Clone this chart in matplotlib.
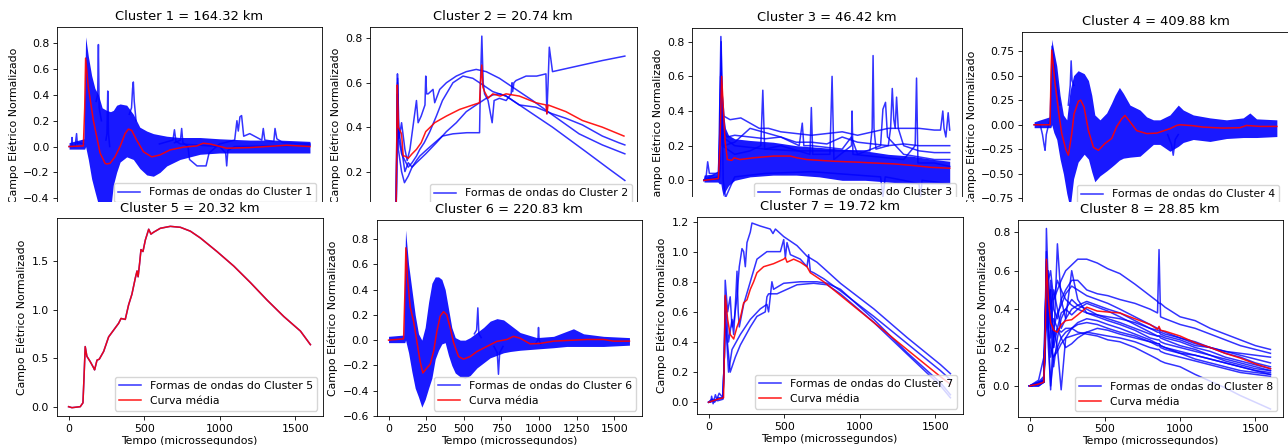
import matplotlib
matplotlib.use('Agg')
import matplotlib.pyplot as plt
from matplotlib.lines import Line2D
from matplotlib.patches import Rectangle

# ---------------- data (tempo in microseconds) ----------------
titles = ['Cluster 1 = 164.32 km', 'Cluster 2 = 20.74 km', 'Cluster 3 = 46.42 km',
          'Cluster 4 = 409.88 km', 'Cluster 5 = 20.32 km', 'Cluster 6 = 220.83 km',
          'Cluster 7 = 19.72 km', 'Cluster 8 = 28.85 km']

# cluster 1
c1_mean_t = [0, 95, 104, 110, 128, 162, 206, 239, 250, 272, 305, 339, 372, 394, 416, 449, 494, 549,
             604, 671, 759, 848, 892, 936, 1047, 1202, 1445, 1600]
c1_mean_v = [0.0, 0.005, 0.3, 0.685, 0.46, 0.2, -0.05, -0.13, -0.135, -0.13, -0.08, 0.0, 0.10, 0.135,
             0.125, 0.05, -0.04, -0.08, -0.065, -0.026, -0.005, 0.005, 0.026, 0.02, -0.013, -0.008, 0.01, 0.0]
c1_band_t = [0, 98, 104, 110, 128, 150, 172, 195, 220, 250, 275, 294, 316, 339, 383, 427, 470, 516,
             560, 604, 649, 737, 870, 1000, 1200, 1400, 1600]
c1_band_hi = [0.03, 0.06, 0.45, 0.85, 0.7, 0.55, 0.45, 0.4, 0.3, 0.28, 0.27, 0.28, 0.32, 0.33, 0.32,
              0.25, 0.15, 0.12, 0.1, 0.09, 0.08, 0.07, 0.07, 0.06, 0.05, 0.05, 0.04]
c1_band_lo = [-0.02, -0.02, -0.02, 0.0, -0.1, -0.25, -0.35, -0.45, -0.55, -0.55, -0.5, -0.3, -0.2,
              -0.12, -0.08, -0.1, -0.17, -0.22, -0.23, -0.2, -0.15, -0.1, -0.06, -0.05, -0.05, -0.05, -0.05]
c1_waves = [
    ([0, 15, 20, 25, 40, 50, 55, 70, 98], [0.0, 0.0, 0.07, 0.0, 0.0, 0.1, 0.02, 0.03, 0.02]),
    ([180, 190, 195, 200, 215], [0.35, 0.4, 0.79, 0.3, 0.2]),
    ([245, 252, 257, 262, 270], [0.05, 0.1, 0.43, 0.1, 0.0]),
    ([400, 415, 422, 427, 433, 445], [0.25, 0.3, 0.45, 0.5, 0.35, 0.2]),
    ([700, 740, 748, 756, 790, 800, 850, 910, 930, 1000, 1100, 1115, 1124, 1135, 1146, 1160, 1200,
      1280, 1290, 1300, 1360, 1368, 1380, 1420, 1600],
     [0.03, 0.05, 0.14, 0.03, 0.0, -0.1, -0.15, -0.15, -0.05, 0.02, 0.05, 0.2, 0.12, 0.23, 0.24, 0.08,
      0.1, 0.05, 0.14, 0.05, 0.04, 0.14, 0.06, 0.03, 0.02]),
    ([600, 690, 700, 710, 740, 1000, 1040, 1047, 1055, 1100, 1600],
     [0.02, 0.05, 0.13, 0.04, 0.02, 0.0, -0.05, -0.15, -0.03, 0.0, 0.01]),
]

# cluster 2
c2_mean_t = [0, 95, 98, 103, 110, 131, 142, 153, 175, 200, 229, 260, 290, 320, 349, 400, 426, 513, 600,
             644, 650, 659, 666, 677, 700, 731, 780, 819, 906, 1015, 1081, 1087, 1095, 1212, 1321, 1452, 1594]
c2_mean_v = [0.0, 0.0, 0.25, 0.59, 0.4, 0.37, 0.27, 0.27, 0.26, 0.28, 0.30, 0.33, 0.38, 0.40, 0.42, 0.44,
             0.45, 0.48, 0.50, 0.51, 0.6, 0.68, 0.58, 0.56, 0.53, 0.55, 0.54, 0.55, 0.54, 0.51, 0.50, 0.46,
             0.50, 0.47, 0.43, 0.40, 0.36]
c2_waves = [
    ([0, 95, 100, 104, 110, 131, 153, 175, 200, 229, 251, 299, 349, 400, 469, 560, 644, 650, 659, 668,
      677, 700, 727, 740, 775, 819, 852, 858, 862, 870, 884, 950, 1020, 1081, 1087, 1095, 1103, 1124,
      1255, 1452, 1600],
     [0.0, 0.0, 0.3, 0.64, 0.4, 0.3, 0.2, 0.24, 0.22, 0.25, 0.27, 0.3, 0.33, 0.36, 0.37, 0.375, 0.375,
      0.6, 0.81, 0.6, 0.55, 0.52, 0.42, 0.52, 0.53, 0.52, 0.55, 0.6, 0.56, 0.6, 0.61, 0.63, 0.63, 0.64,
      0.46, 0.6, 0.76, 0.65, 0.67, 0.70, 0.72]),
    ([0, 95, 100, 105, 115, 131, 153, 168, 186, 229, 240, 260, 285, 290, 296, 306, 338, 349, 382, 426,
      491, 557, 622, 688, 775, 862, 993, 1124, 1299, 1452, 1600],
     [0.0, 0.0, 0.4, 0.62, 0.35, 0.42, 0.3, 0.25, 0.3, 0.52, 0.42, 0.45, 0.5, 0.63, 0.55, 0.55, 0.57,
      0.51, 0.57, 0.6, 0.63, 0.65, 0.66, 0.65, 0.62, 0.58, 0.52, 0.455, 0.37, 0.32, 0.28]),
    ([0, 95, 100, 104, 112, 131, 175, 200, 229, 251, 280, 317, 360, 400, 469, 535, 600, 644, 688, 731,
      775, 819, 906, 1015, 1124, 1212, 1321, 1452, 1560, 1600],
     [0.0, 0.0, 0.3, 0.6, 0.35, 0.28, 0.22, 0.24, 0.27, 0.3, 0.33, 0.38, 0.45, 0.52, 0.6, 0.63, 0.62,
      0.6, 0.58, 0.56, 0.55, 0.54, 0.5, 0.49, 0.46, 0.44, 0.41, 0.36, 0.33, 0.32]),
    ([0, 95, 100, 104, 110, 131, 150, 175, 200, 229, 290, 360, 426, 491, 557, 622, 688, 731, 775, 819,
      906, 1015, 1124, 1343, 1500, 1600],
     [0.0, 0.0, 0.35, 0.55, 0.3, 0.2, 0.15, 0.18, 0.22, 0.24, 0.28, 0.33, 0.38, 0.42, 0.47, 0.5, 0.53,
      0.545, 0.55, 0.54, 0.5, 0.45, 0.4, 0.29, 0.21, 0.16]),
]

# cluster 3
c3_mean_t = [0, 94, 104, 115, 137, 152, 181, 196, 235, 322, 453, 562, 605, 670, 845, 997, 1106, 1236,
             1367, 1476, 1600]
c3_mean_v = [0.0, 0.01, 0.2, 0.6, 0.23, 0.12, 0.115, 0.13, 0.12, 0.13, 0.14, 0.14, 0.13, 0.12, 0.11,
             0.105, 0.1, 0.095, 0.085, 0.075, 0.07]
c3_band_t = [0, 90, 100, 110, 115, 125, 140, 160, 200, 300, 450, 600, 750, 900, 1050, 1200, 1350, 1500, 1600]
c3_band_hi = [0.03, 0.04, 0.3, 0.75, 0.6, 0.4, 0.3, 0.26, 0.24, 0.23, 0.22, 0.2, 0.19, 0.18, 0.17,
              0.15, 0.14, 0.12, 0.11]
c3_band_lo = [-0.01, -0.01, -0.02, -0.02, -0.05, -0.09, -0.06, -0.03, 0.0, 0.02, 0.03, 0.03, 0.02,
              0.0, 0.0, -0.01, -0.02, -0.02, -0.02]
c3_waves = [
    ([0, 94, 104, 110, 118, 130, 170, 240, 300, 360, 420, 500, 600, 700, 800, 900, 1000, 1100, 1200,
      1300, 1400, 1500, 1540, 1555, 1563, 1575, 1590, 1600],
     [0.0, 0.01, 0.5, 0.83, 0.5, 0.37, 0.35, 0.36, 0.33, 0.3, 0.3, 0.28, 0.27, 0.26, 0.27, 0.28, 0.26,
      0.28, 0.3, 0.3, 0.3, 0.29, 0.29, 0.4, 0.3, 0.25, 0.39, 0.29]),
    ([0, 100, 110, 120, 150, 200, 300, 400, 500, 600, 700, 800, 900, 1000, 1100, 1200, 1300, 1400,
      1500, 1600],
     [0.0, 0.05, 0.62, 0.3, 0.25, 0.26, 0.25, 0.24, 0.25, 0.22, 0.22, 0.21, 0.25, 0.22, 0.21, 0.2, 0.21,
      0.2, 0.2, 0.2]),
    ([0, 100, 110, 120, 200, 400, 600, 800, 1000, 1080, 1095, 1101, 1107, 1120, 1200, 1215, 1226, 1236,
      1245, 1254, 1265, 1300, 1400, 1500, 1600],
     [0.0, 0.02, 0.4, 0.25, 0.2, 0.18, 0.17, 0.17, 0.17, 0.17, 0.3, 0.72, 0.3, 0.18, 0.2, 0.3, 0.53,
      0.35, 0.3, 0.48, 0.3, 0.2, 0.17, 0.16, 0.16]),
    ([0, 100, 108, 118, 200, 300, 370, 383, 395, 500, 690, 699, 708, 820, 834, 846, 960, 964, 970,
      1300, 1375, 1384, 1393, 1500, 1600],
     [0.0, 0.02, 0.6, 0.2, 0.15, 0.17, 0.2, 0.52, 0.18, 0.2, 0.15, 0.42, 0.15, 0.15, 0.6, 0.12, 0.2,
      0.4, 0.15, 0.12, 0.2, 0.59, 0.1, 0.1, 0.08]),
    ([0, 15, 24, 35, 94, 104, 112, 125, 140, 200, 400, 700, 1000, 1150, 1165, 1180, 1300, 1400, 1410,
      1420, 1600],
     [0.0, 0.03, 0.107, 0.04, 0.04, 0.3, 0.8, 0.0, -0.1, 0.02, 0.04, 0.05, 0.03, 0.02, -0.1, 0.02, 0.0,
      -0.02, -0.1, 0.0, -0.02]),
    ([0, 100, 110, 130, 200, 300, 500, 620, 640, 650, 700, 900, 960, 1000, 1150, 1165, 1182, 1195,
      1300, 1500, 1600],
     [0.0, 0.01, 0.55, 0.2, 0.22, 0.3, 0.25, 0.2, 0.33, 0.2, 0.2, 0.18, 0.25, 0.15, 0.2, 0.41, 0.45,
      0.25, 0.15, 0.12, 0.12]),
]

# cluster 4
c4_mean_t = [0, 105, 110, 116, 138, 160, 182, 211, 226, 248, 263, 292, 307, 329, 358, 391, 424, 467,
             511, 544, 577, 599, 632, 676, 742, 808, 895, 939, 961, 1049, 1115, 1246, 1356, 1400, 1488, 1600]
c4_mean_v = [0.0, 0.0, 0.4, 0.76, 0.42, 0.146, -0.09, -0.26, -0.31, -0.09, 0.11, 0.24, 0.25, 0.18,
             -0.06, -0.23, -0.26, -0.19, -0.14, -0.02, 0.06, 0.095, 0.03, -0.06, -0.09, -0.085, -0.04,
             -0.007, 0.0, -0.01, -0.024, -0.034, -0.03, -0.007, -0.017, -0.017]
c4_band_t = [0, 101, 110, 116, 130, 149, 171, 193, 215, 237, 260, 290, 330, 358, 380, 400, 434, 478,
             510, 533, 562, 588, 632, 698, 742, 786, 829, 895, 950, 983, 1049, 1159, 1268, 1378, 1422,
             1466, 1600]
c4_band_hi = [0.03, 0.08, 0.5, 0.87, 0.75, 0.6, 0.3, 0.1, 0.05, 0.35, 0.5, 0.55, 0.52, 0.45, 0.3, 0.1,
              0.05, 0.12, 0.22, 0.3, 0.38, 0.32, 0.2, 0.15, 0.08, 0.05, 0.05, 0.1, 0.2, 0.15, 0.1, 0.07,
              0.05, 0.07, 0.12, 0.06, 0.05]
c4_band_lo = [-0.03, -0.03, -0.03, 0.0, -0.08, -0.15, -0.35, -0.5, -0.7, -0.85, -0.55, -0.38, -0.3,
              -0.35, -0.48, -0.58, -0.52, -0.47, -0.43, -0.4, -0.36, -0.34, -0.33, -0.32, -0.26, -0.2,
              -0.2, -0.27, -0.22, -0.18, -0.15, -0.17, -0.14, -0.13, -0.13, -0.13, -0.12]
c4_waves = [
    ([0, 40, 55, 65, 72, 80, 95, 105, 112, 118, 140, 170],
     [0.0, 0.0, -0.1, -0.2, -0.26, -0.1, 0.0, 0.05, 0.4, 0.8, 0.5, 0.2]),
    ([225, 238, 244, 250, 262], [0.2, 0.4, 0.65, 0.45, 0.4]),
    ([880, 905, 917, 930, 950], [-0.1, -0.2, -0.31, -0.15, -0.1]),
]

# cluster 5 (a single waveform, equal to its mean)
c5_t = [0, 22, 77, 95, 102, 110, 121, 143, 166, 172, 188, 203, 232, 265, 298, 331, 347, 375, 397, 419,
        442, 453, 460, 470, 479, 492, 508, 530, 545, 563, 607, 673, 740, 806, 872, 982, 1093, 1203,
        1313, 1424, 1534, 1600]
c5_v = [0.0, -0.01, 0.0, 0.04, 0.3, 0.62, 0.52, 0.465, 0.40, 0.38, 0.48, 0.49, 0.57, 0.72, 0.79, 0.86,
        0.91, 0.90, 1.05, 1.16, 1.33, 1.40, 1.34, 1.48, 1.62, 1.60, 1.72, 1.83, 1.78, 1.80, 1.84, 1.86,
        1.85, 1.81, 1.74, 1.60, 1.45, 1.28, 1.10, 0.93, 0.78, 0.64]

# cluster 6
c6_mean_t = [0, 100, 108, 115, 126, 144, 166, 188, 210, 228, 255, 277, 299, 321, 343, 365, 387, 409,
             432, 465, 498, 542, 587, 653, 719, 786, 830, 874, 941, 1007, 1096, 1317, 1428, 1494, 1600]
c6_mean_v = [0.0, 0.01, 0.35, 0.73, 0.49, 0.26, 0.15, -0.01, -0.17, -0.26, -0.22, -0.19, -0.09, 0.07,
             0.19, 0.225, 0.2, 0.1, -0.02, -0.13, -0.15, -0.13, -0.09, -0.05, -0.01, 0.005, 0.03, 0.015,
             -0.03, -0.026, -0.008, 0.005, 0.005, -0.008, -0.008]
c6_band_t = [0, 100, 108, 113, 133, 155, 177, 199, 221, 243, 266, 288, 310, 332, 354, 376, 398, 420,
             443, 476, 509, 542, 587, 631, 675, 720, 764, 808, 874, 985, 1096, 1184, 1228, 1295, 1428, 1600]
c6_band_hi = [0.03, 0.04, 0.6, 0.87, 0.6, 0.4, 0.2, 0.05, 0.0, 0.1, 0.3, 0.45, 0.5, 0.5, 0.48, 0.4,
              0.25, 0.1, 0.02, 0.0, 0.0, 0.02, 0.06, 0.1, 0.15, 0.17, 0.16, 0.12, 0.06, 0.02, 0.03, 0.07,
              0.09, 0.05, 0.03, 0.02]
c6_band_lo = [-0.02, -0.02, -0.02, 0.0, -0.1, -0.25, -0.38, -0.45, -0.53, -0.47, -0.38, -0.3, -0.15,
              -0.08, -0.03, -0.02, -0.12, -0.2, -0.26, -0.29, -0.3, -0.28, -0.22, -0.18, -0.14, -0.12,
              -0.1, -0.09, -0.08, -0.07, -0.06, -0.05, -0.05, -0.05, -0.05, -0.04]
c6_waves = [
    ([570, 585, 593, 600, 615], [0.05, 0.08, 0.255, 0.05, 0.02]),
    ([700, 722, 730, 738, 760], [-0.05, -0.1, -0.27, -0.1, -0.05]),
    ([980, 992, 996, 1000, 1010], [-0.02, 0.0, 0.1, 0.0, -0.03]),
]

# cluster 7
c7_mean_t = [0, 60, 99, 104, 110, 126, 143, 166, 188, 210, 232, 254, 276, 298, 320, 364, 430, 497, 508,
             519, 563, 607, 651, 673, 762, 872, 1093, 1313, 1534, 1600]
c7_mean_v = [0.0, 0.02, 0.03, 0.3, 0.71, 0.55, 0.45, 0.42, 0.5, 0.56, 0.66, 0.68, 0.75, 0.8, 0.86, 0.9,
             0.92, 0.95, 0.96, 0.93, 0.95, 0.93, 0.9, 0.86, 0.8, 0.71, 0.53, 0.35, 0.17, 0.12]
c7_waves = [
    ([0, 15, 20, 30, 45, 55, 70, 95, 104, 110, 126, 143, 155, 170, 188, 203, 221, 232, 243, 254, 276,
      287, 342, 408, 426, 442, 497, 585, 651, 717, 762, 872, 1093, 1313, 1534, 1600],
     [0.0, 0.0, 0.04, -0.01, 0.05, 0.02, 0.06, 0.03, 0.3, 0.81, 0.6, 0.7, 0.5, 0.55, 0.7, 0.9, 1.02, 1.0,
      0.9, 1.06, 1.13, 1.19, 1.17, 1.15, 1.12, 1.15, 1.10, 1.04, 0.97, 0.93, 0.89, 0.79, 0.62, 0.43,
      0.25, 0.19]),
    ([0, 20, 40, 60, 95, 104, 110, 132, 155, 166, 180, 188, 196, 203, 232, 276, 320, 386, 475, 497, 508,
      519, 541, 563, 607, 651, 662, 673, 695, 762, 872, 1093, 1313, 1534, 1600],
     [0.0, 0.02, 0.0, 0.03, 0.03, 0.3, 0.7, 0.4, 0.55, 0.45, 0.7, 0.87, 0.6, 0.5, 0.65, 0.8, 0.95, 1.0,
      1.0, 1.08, 0.96, 1.06, 0.98, 0.97, 0.95, 0.9, 0.98, 0.87, 0.86, 0.82, 0.74, 0.57, 0.39, 0.21, 0.15]),
    ([0, 30, 60, 95, 104, 110, 132, 155, 210, 276, 342, 386, 397, 408, 419, 430, 497, 607, 717, 784,
      872, 982, 1093, 1313, 1534, 1600],
     [0.0, 0.01, 0.02, 0.03, 0.3, 0.6, 0.2, 0.35, 0.45, 0.55, 0.62, 0.65, 0.6, 0.7, 0.8, 0.75, 0.79,
      0.8, 0.8, 0.79, 0.75, 0.65, 0.55, 0.33, 0.13, 0.05]),
    ([0, 30, 60, 95, 104, 110, 143, 177, 210, 276, 320, 375, 386, 397, 453, 497, 585, 695, 784, 872,
      1093, 1313, 1534, 1600],
     [0.0, 0.02, 0.01, 0.02, 0.3, 0.55, 0.2, 0.3, 0.38, 0.5, 0.57, 0.6, 0.7, 0.72, 0.72, 0.74, 0.78,
      0.79, 0.78, 0.72, 0.53, 0.32, 0.11, 0.03]),
]

# cluster 8 (common time grid)
c8_t = [0, 60, 95, 105, 112, 125, 140, 160, 185, 210, 240, 280, 320, 380, 450, 520, 600, 700, 800, 850,
        860, 870, 900, 1000, 1100, 1200, 1300, 1400, 1500, 1600]
c8_mean = [0.0, 0.01, 0.02, 0.3, 0.66, 0.45, 0.33, 0.29, 0.28, 0.32, 0.34, 0.345, 0.37, 0.41, 0.39,
           0.385, 0.38, 0.35, 0.32, 0.295, 0.31, 0.29, 0.285, 0.26, 0.225, 0.2, 0.17, 0.145, 0.115, 0.09]
c8_waves = [
    [0.0, 0.01, 0.02, 0.3, 0.6, 0.45, 0.3, 0.45, 0.5, 0.55, 0.6, 0.63, 0.66, 0.66, 0.64, 0.61, 0.585,
     0.53, 0.47, 0.44, 0.43, 0.43, 0.41, 0.36, 0.34, 0.3, 0.27, 0.24, 0.21, 0.19],
    [0.0, 0.02, 0.03, 0.4, 0.7, 0.35, 0.55, 0.4, 0.35, 0.45, 0.5, 0.55, 0.55, 0.5, 0.48, 0.47, 0.45,
     0.43, 0.4, 0.38, 0.71, 0.36, 0.35, 0.32, 0.3, 0.27, 0.24, 0.21, 0.19, 0.17],
    [0.0, 0.01, 0.02, 0.2, 0.5, 0.3, 0.15, 0.25, 0.3, 0.28, 0.3, 0.3, 0.28, 0.27, 0.26, 0.24, 0.23, 0.2,
     0.16, 0.14, 0.135, 0.13, 0.12, 0.1, 0.06, 0.025, -0.01, -0.05, -0.085, -0.12],
    [0.0, 0.03, 0.15, 0.4, 0.55, 0.3, 0.5, 0.2, 0.74, 0.45, 0.35, 0.4, 0.42, 0.44, 0.42, 0.4, 0.38,
     0.34, 0.3, 0.28, 0.28, 0.27, 0.26, 0.24, 0.21, 0.2, 0.18, 0.17, 0.16, 0.15],
    [0.0, 0.01, 0.02, 0.3, 0.6, 0.3, -0.02, 0.3, 0.2, -0.02, 0.25, 0.3, 0.33, 0.35, 0.34, 0.32, 0.3,
     0.27, 0.24, 0.22, 0.22, 0.21, 0.2, 0.17, 0.14, 0.12, 0.1, 0.08, 0.07, 0.06],
    [0.0, 0.0, 0.02, 0.25, 0.45, 0.6, 0.3, 0.1, 0.25, 0.35, 0.4, 0.45, 0.42, 0.4, 0.37, 0.35, 0.33, 0.3,
     0.27, 0.26, 0.26, 0.25, 0.24, 0.21, 0.19, 0.16, 0.14, 0.12, 0.1, 0.08],
    [0.0, 0.01, 0.04, 0.3, 0.55, 0.4, 0.5, 0.2, 0.3, 0.25, 0.2, 0.22, 0.25, 0.28, 0.3, 0.29, 0.27, 0.25,
     0.23, 0.21, 0.21, 0.2, 0.19, 0.17, 0.16, 0.14, 0.12, 0.1, 0.08, 0.07],
    [0.0, 0.02, 0.02, 0.35, 0.65, 0.5, 0.25, 0.35, 0.3, 0.38, 0.4, 0.37, 0.4, 0.43, 0.41, 0.39, 0.36,
     0.32, 0.28, 0.26, 0.26, 0.26, 0.25, 0.23, 0.2, 0.18, 0.15, 0.13, 0.11, 0.09],
    [0.0, 0.01, 0.03, 0.3, 0.58, 0.5, 0.4, 0.5, 0.4, 0.3, 0.35, 0.6, 0.45, 0.38, 0.36, 0.34, 0.32, 0.29,
     0.25, 0.24, 0.24, 0.23, 0.22, 0.2, 0.18, 0.16, 0.13, 0.11, 0.09, 0.08],
    [0.0, 0.01, 0.03, 0.3, 0.82, 0.5, 0.35, 0.3, 0.38, 0.42, 0.48, 0.52, 0.5, 0.47, 0.45, 0.43, 0.4,
     0.36, 0.32, 0.3, 0.3, 0.29, 0.28, 0.25, 0.23, 0.2, 0.18, 0.16, 0.14, 0.12],
    [0.0, 0.02, 0.05, 0.3, 0.5, 0.3, 0.2, 0.15, 0.18, 0.22, 0.25, 0.26, 0.27, 0.28, 0.27, 0.26, 0.25,
     0.23, 0.2, 0.19, 0.19, 0.18, 0.17, 0.15, 0.13, 0.11, 0.09, 0.07, 0.06, 0.05],
    [0.0, 0.0, 0.02, 0.35, 0.62, 0.55, 0.6, 0.45, 0.55, 0.5, 0.45, 0.42, 0.4, 0.38, 0.37, 0.36, 0.35,
     0.33, 0.3, 0.29, 0.29, 0.28, 0.27, 0.25, 0.22, 0.2, 0.17, 0.15, 0.12, 0.1],
    [0.0, 0.01, 0.02, 0.25, 0.4, 0.2, 0.0, 0.15, 0.2, 0.25, 0.28, 0.3, 0.32, 0.33, 0.32, 0.3, 0.28,
     0.26, 0.23, 0.22, 0.22, 0.21, 0.2, 0.18, 0.16, 0.14, 0.12, 0.1, 0.08, 0.06],
]

# ---------------- figure ----------------
plt.rcParams.update({
    'font.family': 'DejaVu Sans',
    'font.size': 7.8,
    'axes.titlesize': 9.4,
    'axes.linewidth': 0.6,
    'axes.titlepad': 4.7,
    'axes.labelpad': 3.0,
    'xtick.major.size': 2.7, 'ytick.major.size': 2.7,
    'xtick.major.width': 0.6, 'ytick.major.width': 0.6,
    'xtick.major.pad': 2.7, 'ytick.major.pad': 2.7,
    'legend.fontsize': 7.8,
})

W, H = 1288, 445
fig = plt.figure(figsize=(W / 100, H / 100), dpi=100)
BLUE = dict(color='blue', alpha=0.8, lw=1.1)
RED = dict(color='red', alpha=0.9, lw=1.1)
BAND = dict(color='blue', alpha=0.9, lw=0)


def panel(left, top, right, bottom, z):
    ax = fig.add_axes([left / W, 1 - bottom / H, (right - left) / W, (bottom - top) / H])
    ax.set_zorder(z)
    return ax


def finish(ax, n, ylim, yticks):
    ax.set_xlim(-80, 1680)
    ax.set_ylim(*ylim)
    ax.set_yticks(yticks)
    ax.set_title(titles[n - 1])
    ax.set_ylabel('Campo Elétrico Normalizado')


def top_legend(ax, n, right_px, top_px):
    # only the first entry shows above the bottom row
    ax.legend([Line2D([], [], **BLUE)], [f'Formas de ondas do Cluster {n}'],
              loc='upper right', bbox_to_anchor=(right_px / W, 1 - top_px / H),
              bbox_transform=fig.transFigure, borderaxespad=0)
    ax.tick_params(labelbottom=False)


def bottom_legend(ax, n, xticks):
    ax.set_xticks(xticks)
    ax.set_xlabel('Tempo (microssegundos)', labelpad=1.5)
    handles = [Line2D([], [], **BLUE), Line2D([], [], **RED)]
    ax.legend(handles, [f'Formas de ondas do Cluster {n}', 'Curva média'], loc='lower right')


# top row (lower part hidden under the bottom row)
ax1 = panel(57, 27, 322, 224, 0)
ax1.fill_between(c1_band_t, c1_band_lo, c1_band_hi, **BAND)
for t, v in c1_waves:
    ax1.plot(t, v, **BLUE)
ax1.plot(c1_mean_t, c1_mean_v, **RED)
finish(ax1, 1, (-0.6, 0.926), [-0.4, -0.2, 0.0, 0.2, 0.4, 0.6, 0.8])
top_legend(ax1, 1, 316, 183)

ax2 = panel(369.5, 27, 637, 224, 0)
for t, v in c2_waves:
    ax2.plot(t, v, **BLUE)
ax2.plot(c2_mean_t, c2_mean_v, **RED)
finish(ax2, 2, (-0.036, 0.851), [0.2, 0.4, 0.6, 0.8])
top_legend(ax2, 2, 632, 184)

ax3 = panel(691.7, 28, 962, 224, 0)
ax3.fill_between(c3_band_t, c3_band_lo, c3_band_hi, **BAND)
for t, v in c3_waves:
    ax3.plot(t, v, **BLUE)
ax3.plot(c3_mean_t, c3_mean_v, **RED)
finish(ax3, 3, (-0.252, 0.879), [0.0, 0.2, 0.4, 0.6, 0.8])
top_legend(ax3, 3, 956, 183)

ax4 = panel(1022, 31.7, 1289, 224, 0)
ax4.fill_between(c4_band_t, c4_band_lo, c4_band_hi, **BAND)
for t, v in c4_waves:
    ax4.plot(t, v, **BLUE)
ax4.plot(c4_mean_t, c4_mean_v, **RED)
finish(ax4, 4, (-1.01, 0.947), [-0.75, -0.5, -0.25, 0.0, 0.25, 0.5, 0.75])
top_legend(ax4, 4, 1279, 185)

# white sheets the bottom screenshots sit on
for x0, x1, y0 in [(0, 322, 202), (322, 642, 202), (642, 966, 197), (966, 1288, 202)]:
    fig.add_artist(Rectangle((x0 / W, 0), (x1 - x0) / W, (H - y0) / H, transform=fig.transFigure,
                             facecolor='white', edgecolor='none', zorder=1))

# bottom row
ax5 = panel(56.5, 218.3, 322.5, 416, 2)
ax5.plot(c5_t, c5_v, **BLUE)
ax5.plot(c5_t, c5_v, **RED)
finish(ax5, 5, (-0.096, 1.943), [0.0, 0.5, 1.0, 1.5])
bottom_legend(ax5, 5, [0, 500, 1000, 1500])

ax6 = panel(376.5, 220, 641.5, 416, 2)
ax6.fill_between(c6_band_t, c6_band_lo, c6_band_hi, **BAND)
for t, v in c6_waves:
    ax6.plot(t, v, **BLUE)
ax6.plot(c6_mean_t, c6_mean_v, **RED)
finish(ax6, 6, (-0.6, 0.95), [-0.6, -0.4, -0.2, 0.0, 0.2, 0.4, 0.6, 0.8])
bottom_legend(ax6, 6, [0, 250, 500, 750, 1000, 1250, 1500])

ax7 = panel(696.5, 217, 962.5, 414, 2)
for t, v in c7_waves:
    ax7.plot(t, v, **BLUE)
ax7.plot(c7_mean_t, c7_mean_v, **RED)
finish(ax7, 7, (-0.078, 1.23), [0.0, 0.2, 0.4, 0.6, 0.8, 1.0, 1.2])
bottom_legend(ax7, 7, [0, 500, 1000, 1500])

ax8 = panel(1017.5, 220, 1282.5, 416.7, 2)
for v in c8_waves:
    ax8.plot(c8_t, v, **BLUE)
ax8.plot(c8_t, c8_mean, **RED)
finish(ax8, 8, (-0.16, 0.864), [0.0, 0.2, 0.4, 0.6, 0.8])
bottom_legend(ax8, 8, [0, 500, 1000, 1500])

fig.savefig('out.png', dpi=100)
